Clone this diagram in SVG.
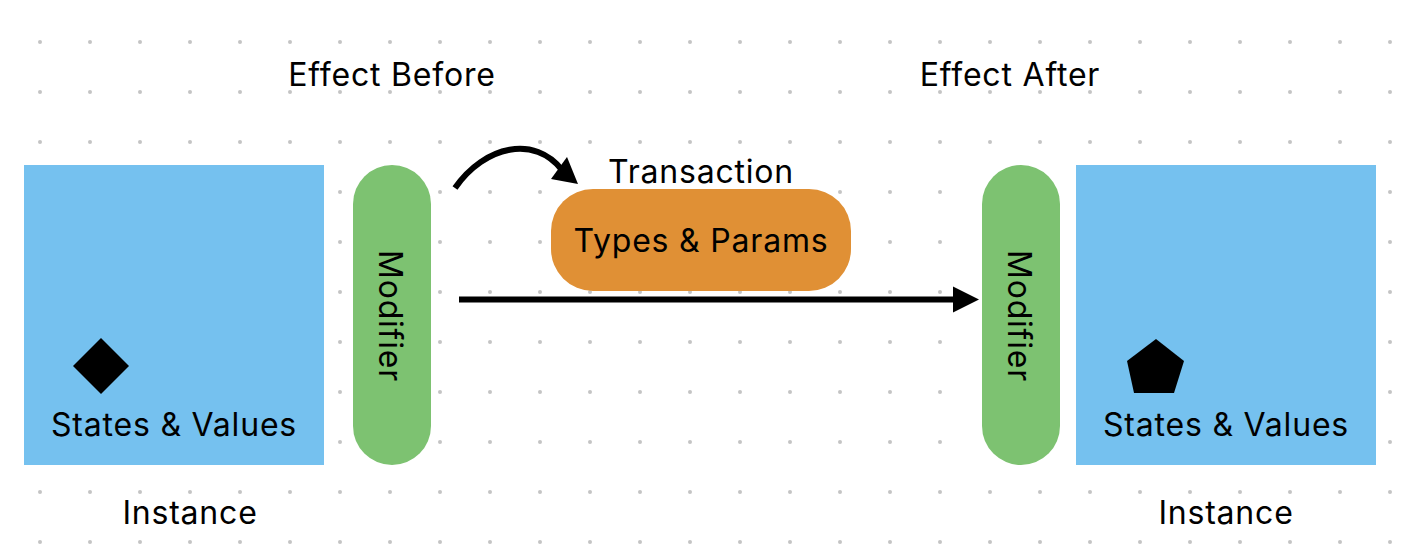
<svg xmlns="http://www.w3.org/2000/svg" width="1418" height="556" viewBox="0 0 1418 556">
  <defs>
    <pattern id="dots" x="15" y="17" width="50" height="50" patternUnits="userSpaceOnUse">
      <circle cx="25" cy="25" r="2" fill="#c4c4c4"/>
    </pattern>
    <style>
      text { font-family: Inter, "Liberation Sans", sans-serif; font-size: 32px; letter-spacing: 0.8px; fill: #000; text-anchor: middle; }
      .inst { fill: #75c1ef; }
      .mod { fill: #7dc271; }
      .tx { fill: #e09035; }
      .conn { stroke: #000; stroke-width: 6; fill: none; }
    </style>
  </defs>
  <rect width="1418" height="556" fill="#fff"/>
  <rect x="15" y="17" width="1400" height="535" fill="url(#dots)"/>

  <text x="392" y="86">Effect Before</text>
  <text x="1010" y="86">Effect After</text>

  <g id="instance-left">
    <rect class="inst" x="24" y="165" width="300" height="300"/>
    <polygon points="101,338 129,366 101,394 73,366" fill="#000"/>
    <text x="174" y="436">States &amp; Values</text>
    <text x="190" y="524">Instance</text>
  </g>

  <g id="modifier-left">
    <rect class="mod" x="353" y="165" width="78" height="300" rx="39"/>
    <text transform="translate(379,316) rotate(90)" x="0" y="0">Modifier</text>
  </g>

  <g id="transaction">
    <text x="701" y="183">Transaction</text>
    <rect class="tx" x="551" y="189" width="300" height="102" rx="42"/>
    <text x="701" y="252">Types &amp; Params</text>
  </g>

  <g id="modifier-right">
    <rect class="mod" x="982" y="165" width="78" height="300" rx="39"/>
    <text transform="translate(1008,316) rotate(90)" x="0" y="0">Modifier</text>
  </g>

  <g id="instance-right">
    <rect class="inst" x="1076" y="165" width="300" height="300"/>
    <polygon points="1156,339 1184,361 1174,393 1134,393 1127,361" fill="#000"/>
    <text x="1226" y="436">States &amp; Values</text>
    <text x="1226" y="524">Instance</text>
  </g>

  <g id="connectors">
    <path class="conn" d="M455,188 C485,145 535,135 562,170"/>
    <polygon points="578,184 551,179 567,157" fill="#000"/>
    <line class="conn" x1="459" y1="299.5" x2="955" y2="299.5"/>
    <polygon points="979,299.5 953,286.5 953,312.5" fill="#000"/>
  </g>
</svg>
